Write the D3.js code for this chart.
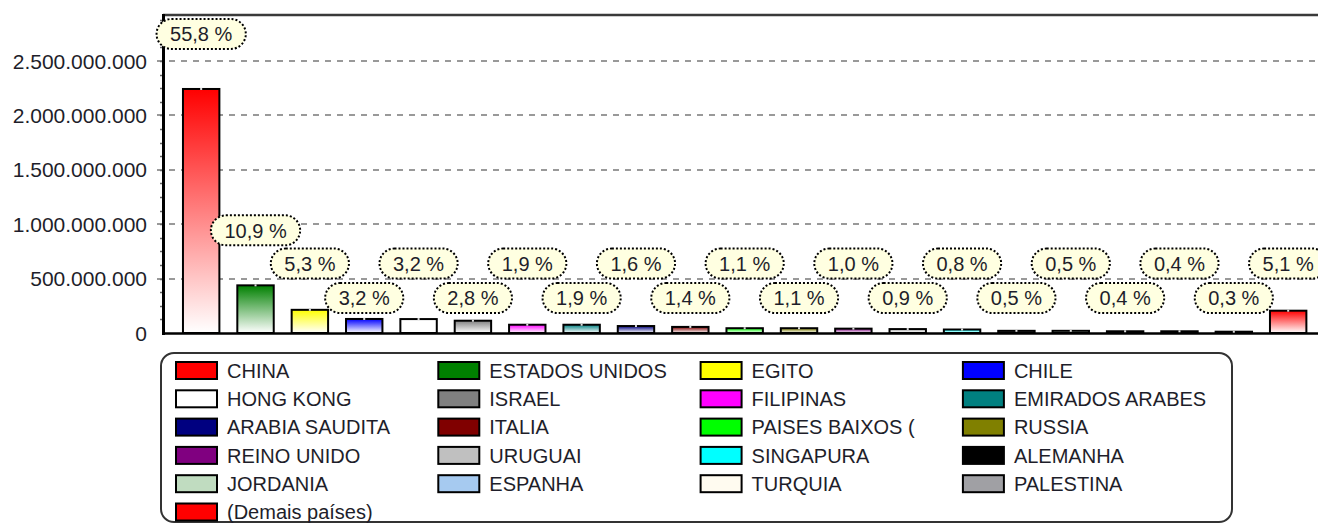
<!DOCTYPE html>
<html>
<head>
<meta charset="utf-8">
<script src="https://cdn.jsdelivr.net/npm/d3@7"></script>
<style>
  body { margin: 0; background: #fff; }
  svg { display: block; font-family: "Liberation Sans", Arial, sans-serif; }
</style>
</head>
<body>
<script>
// countries, in the order of the bars (descending)
var countries = ['CHINA', 'ESTADOS UNIDOS', 'EGITO', 'CHILE', 'HONG KONG', 'ISRAEL', 'FILIPINAS',
  'EMIRADOS ARABES', 'ARABIA SAUDITA', 'ITALIA', 'PAISES BAIXOS (', 'RUSSIA', 'REINO UNIDO',
  'URUGUAI', 'SINGAPURA', 'ALEMANHA', 'JORDANIA', 'ESPANHA', 'TURQUIA', 'PALESTINA', '(Demais países)'];

// estimated values
var values = [2243000000, 438000000, 213000000, 129000000, 128000000, 113000000, 76000000,
  76000000, 64000000, 56000000, 44000000, 44000000, 40000000, 36000000, 32000000, 20000000,
  20000000, 16000000, 16000000, 12000000, 205000000];

// percentage labels as printed
var shares = ['55,8 %', '10,9 %', '5,3 %', '3,2 %', '3,2 %', '2,8 %', '1,9 %', '1,9 %', '1,6 %', '1,4 %',
  '1,1 %', '1,1 %', '1,0 %', '0,9 %', '0,8 %', '0,5 %', '0,5 %', '0,4 %', '0,4 %', '0,3 %', '5,1 %'];

var colors = ['#FF0000', '#008000', '#FFFF00', '#0000FF', '#FFFFFF', '#808080', '#FF00FF',
  '#008080', '#000080', '#800000', '#00FF00', '#808000', '#800080', '#C0C0C0', '#00FFFF',
  '#000000', '#C0DCC0', '#A6CAF0', '#FFFBF0', '#A0A0A4', '#FF0000'];

var yTicks = [0, 500000000, 1000000000, 1500000000, 2000000000, 2500000000];

var data = countries.map(function (c, i) {
  return {name: c, value: values[i], share: shares[i], color: colors[i], i: i};
});

var W = 1318, H = 523;
var plotLeft = 163, plotTop = 15, plotBottom = 333;
var yMax = 2923000000;

var ptBR = d3.formatLocale({decimal: ',', thousands: '.', grouping: [3], currency: ['R$', '']});
var fmt = ptBR.format(',d');

var svg = d3.select('body').append('svg')
  .attr('width', W)
  .attr('height', H);

var defs = svg.append('defs');
data.forEach(function (d) {
  var g = defs.append('linearGradient')
    .attr('id', 'grad' + d.i)
    .attr('x1', 0).attr('y1', 0).attr('x2', 0).attr('y2', 1);
  g.append('stop').attr('offset', '0%').attr('stop-color', d.color);
  g.append('stop').attr('offset', '100%').attr('stop-color', '#fff');
});

var y = d3.scaleLinear().domain([0, yMax]).range([plotBottom, plotTop]);
var x = d3.scaleBand()
  .domain(countries)
  .range([174, 174 + 21 * 54.35])
  .paddingInner(0.33)
  .paddingOuter(0.165);

// gridlines
svg.selectAll('.grid')
  .data(yTicks.slice(1))
  .enter().append('line')
  .attr('x1', plotLeft - 6).attr('x2', W)
  .attr('y1', function (d) { return Math.round(y(d)); })
  .attr('y2', function (d) { return Math.round(y(d)); })
  .attr('stroke', '#999')
  .attr('stroke-width', 2)
  .attr('stroke-dasharray', '6,6');

// minor ticks on the y axis
svg.selectAll('.minor')
  .data(d3.range(125000000, yMax, 125000000))
  .enter().append('line')
  .attr('x1', plotLeft - 3).attr('x2', plotLeft)
  .attr('y1', function (d) { return Math.round(y(d)) + 0.5; })
  .attr('y2', function (d) { return Math.round(y(d)) + 0.5; })
  .attr('stroke', '#666')
  .attr('stroke-width', 1.5);

// tick labels
svg.selectAll('.ylab')
  .data(yTicks)
  .enter().append('text')
  .attr('x', 147)
  .attr('y', function (d) { return y(d); })
  .attr('dy', '0.36em')
  .attr('text-anchor', 'end')
  .attr('font-size', 21)
  .attr('fill', '#1e1e2a')
  .text(function (d) { return fmt(d); });

// frame
svg.append('line')
  .attr('x1', plotLeft).attr('x2', W).attr('y1', plotTop).attr('y2', plotTop)
  .attr('stroke', '#3a3a3a').attr('stroke-width', 2.5);
svg.append('line')
  .attr('x1', plotLeft + 0.5).attr('x2', plotLeft + 0.5).attr('y1', plotTop - 1).attr('y2', plotBottom + 2)
  .attr('stroke', '#000').attr('stroke-width', 3);
svg.append('line')
  .attr('x1', plotLeft).attr('x2', W).attr('y1', plotBottom + 0.5).attr('y2', plotBottom + 0.5)
  .attr('stroke', '#000').attr('stroke-width', 2.5);

// bars
svg.selectAll('.bar')
  .data(data)
  .enter().append('rect')
  .attr('x', function (d) { return x(d.name); })
  .attr('y', function (d) { return y(d.value); })
  .attr('width', x.bandwidth())
  .attr('height', function (d) { return plotBottom - y(d.value); })
  .attr('fill', function (d) { return 'url(#grad' + d.i + ')'; })
  .attr('stroke', '#000')
  .attr('stroke-width', 2);

// small notch on top of each bar
svg.selectAll('.notch')
  .data(data)
  .enter().append('rect')
  .attr('x', function (d) { return x(d.name) + x.bandwidth() / 2 - 1; })
  .attr('y', function (d) { return y(d.value) - 1; })
  .attr('width', 2)
  .attr('height', 2)
  .attr('fill', '#ddd');

// percentage labels: above the bar, or on one of two staggered rows when the bar is short
var rowUp = 263.5, rowDown = 298;
var labels = svg.selectAll('.lab')
  .data(data)
  .enter().append('g')
  .attr('transform', function (d) {
    var ly = y(d.value) - 55;
    if (ly > rowUp - 15) ly = d.i % 2 === 0 ? rowUp : rowDown;
    return 'translate(' + (x(d.name) + x.bandwidth() / 2) + ',' + ly + ')';
  });

labels.append('rect').attr('class', 'pill');
labels.append('text')
  .attr('text-anchor', 'middle')
  .attr('dy', '0.36em')
  .attr('font-size', 20)
  .attr('fill', '#1e1e2a')
  .text(function (d) { return d.share; });

labels.each(function () {
  var g = d3.select(this);
  var tw = g.select('text').node().getComputedTextLength();
  var w = tw + 27, h = 30;
  g.select('rect')
    .attr('x', -w / 2).attr('y', -h / 2)
    .attr('width', w).attr('height', h)
    .attr('rx', h / 2).attr('ry', h / 2)
    .attr('fill', '#FFFFE1')
    .attr('stroke', '#000')
    .attr('stroke-width', 2)
    .attr('stroke-dasharray', '2,2');
});

// legend
var legend = svg.append('g');
legend.append('rect')
  .attr('x', 161).attr('y', 353)
  .attr('width', 1071).attr('height', 169)
  .attr('rx', 13).attr('ry', 13)
  .attr('fill', '#fff')
  .attr('stroke', '#333')
  .attr('stroke-width', 2);

var items = legend.selectAll('.item')
  .data(data)
  .enter().append('g')
  .attr('transform', function (d) {
    return 'translate(' + (176 + (d.i % 4) * 262.3) + ',' + (370.5 + Math.floor(d.i / 4) * 28.3) + ')';
  });

items.append('rect')
  .attr('x', 0).attr('y', -8.5)
  .attr('width', 41).attr('height', 17)
  .attr('fill', function (d) { return d.color; })
  .attr('stroke', '#000')
  .attr('stroke-width', 2);

items.append('text')
  .attr('x', 51)
  .attr('dy', '0.36em')
  .attr('font-size', 20)
  .attr('fill', '#1e1e2a')
  .text(function (d) { return d.name; });
</script>
</body>
</html>
